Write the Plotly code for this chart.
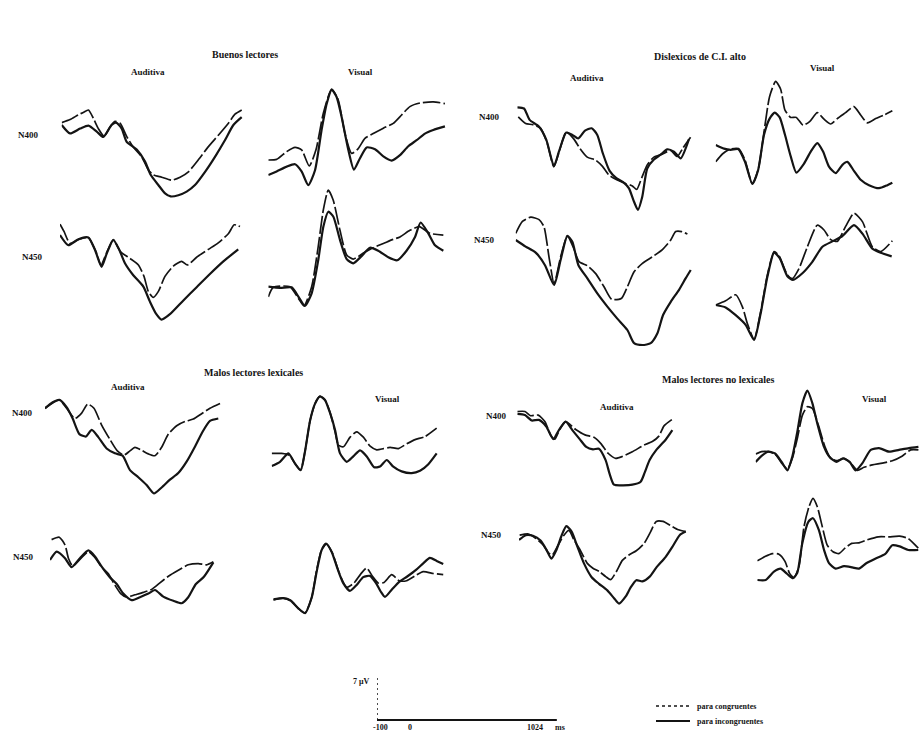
import plotly.graph_objects as go

W, H = 919, 734
MS_PER_PX = 6.25   # horizontal scale of every panel
PX_PER_UV = 6.0    # vertical scale of every panel (7 uV bar = 42 px)

# ---------------- data (time in ms, amplitude in uV) ----------------
# Buenos lectores
bl_aud_n400_inc_t = [-100, -48, 15, 67, 119, 160, 212, 240, 275, 306, 369, 421, 456, 504, 546, 581, 629, 681, 733, 796, 858, 921, 973, 1025]
bl_aud_n400_inc_v = [0, -1.4, -0.6, -0.1, -1.1, -2.0, 0, 0.4, -0.6, -2.8, -4.1, -6.1, -8.3, -10.0, -11.4, -11.9, -11.7, -11.1, -10.0, -7.8, -5.3, -2.5, 0, 1.3]
bl_aud_n400_con_t = [-100, -48, 4, 35, 67, 98, 129, 165, 202, 233, 265, 306, 348, 400, 442, 473, 525, 587, 640, 692, 754, 817, 879, 942, 983, 1025]
bl_aud_n400_con_v = [0.4, 0.9, 1.7, 2.1, 2.5, 1.1, -0.6, -1.9, -0.3, 0.6, 0.3, -1.9, -3.7, -5.3, -7.5, -8.3, -8.7, -9.2, -8.7, -7.8, -5.8, -3.6, -1.7, 0.3, 1.8, 2.5]

bl_vis_n400_inc_t = [-100, -48, 15, 67, 108, 150, 192, 233, 265, 296, 327, 358, 400, 435, 473, 515, 567, 619, 671, 723, 775, 827, 879, 931, 1004]
bl_vis_n400_inc_v = [0, 0.6, 1.4, 1.8, 0.6, -1.7, 0.8, 7.5, 11.9, 14.2, 13.0, 9.7, 4.2, 0.9, 2.8, 4.6, 4.3, 3.1, 2.4, 3.3, 4.8, 5.8, 6.9, 7.5, 8.1]
bl_vis_n400_con_t = [-100, -48, 15, 67, 108, 156, 198, 244, 296, 337, 379, 421, 462, 504, 556, 619, 681, 733, 785, 848, 931, 1004]
bl_vis_n400_con_v = [2.5, 2.6, 3.9, 4.6, 4.2, 1.5, 4.2, 10.3, 14.3, 12.5, 6.9, 3.6, 4.4, 6.1, 6.9, 7.8, 8.6, 10.0, 11.4, 12.0, 12.2, 11.9]

bl_aud_n450_inc_t = [-100, -48, 15, 77, 119, 160, 192, 233, 271, 306, 358, 421, 462, 500, 535, 587, 671, 754, 837, 921, 1014]
bl_aud_n450_inc_v = [0, -1.7, -0.7, -0.4, -2.5, -5.3, -3.1, -0.8, -2.5, -4.7, -6.7, -8.6, -11.1, -13.1, -14.1, -13.2, -10.9, -8.7, -6.5, -4.4, -2.4]
bl_aud_n450_con_t = [-100, -75, -38, 21, 77, 125, 156, 192, 233, 279, 337, 390, 425, 452, 483, 515, 556, 608, 660, 696, 754, 827, 889, 952, 989, 1025]
bl_aud_n450_con_v = [1.8, 0.6, -1.4, -0.7, -0.4, -2.8, -5.0, -2.9, -0.8, -2.8, -3.9, -5.0, -6.9, -9.4, -10.4, -9.4, -6.9, -5.2, -4.4, -5.0, -3.7, -2.4, -1.3, 0.2, 1.7, 1.4]

bl_vis_n450_inc_t = [-100, -27, 46, 87, 129, 171, 212, 244, 275, 306, 348, 390, 431, 483, 535, 587, 650, 706, 764, 817, 852, 900, 942, 994]
bl_vis_n450_inc_v = [0, -0.2, -0.1, -1.6, -3.2, -1.1, 4.4, 10.0, 12.5, 11.7, 7.8, 4.6, 3.9, 5.1, 6.5, 6.0, 4.9, 4.4, 6.0, 8.3, 10.7, 8.9, 6.9, 6.0]
bl_vis_n450_con_t = [-100, -69, 35, 87, 123, 171, 212, 244, 275, 306, 348, 390, 431, 494, 556, 619, 671, 723, 785, 844, 910, 994]
bl_vis_n450_con_v = [-1.7, -0.1, 0, -1.9, -3.2, 0, 6.7, 12.8, 16.1, 14.4, 9.4, 5.3, 4.6, 5.6, 6.5, 7.2, 7.8, 8.3, 9.4, 10.0, 8.9, 8.6]

# Dislexicos de C.I. alto
dx_aud_n400_inc_t = [-100, -58, -23, 35, 81, 129, 160, 206, 244, 281, 323, 365, 400, 435, 477, 519, 567, 598, 629, 654, 681, 712, 754, 796, 837, 879, 921, 973]
dx_aud_n400_inc_v = [0, -0.2, -2.1, -3.2, -5.4, -9.8, -7.4, -4.2, -4.6, -5.2, -3.9, -3.5, -4.6, -7.7, -10.6, -11.8, -12.6, -13.5, -15.7, -17.1, -14.9, -10.2, -8.7, -7.9, -7.0, -7.4, -8.5, -5.3]
dx_aud_n400_con_t = [-94, -48, -2, 46, 87, 129, 165, 206, 254, 290, 337, 390, 431, 473, 525, 577, 619, 646, 677, 712, 754, 806, 858, 900, 935, 983]
dx_aud_n400_con_v = [-1.6, -2.7, -2.9, -3.5, -6.0, -9.9, -7.1, -4.1, -5.3, -6.8, -8.3, -8.8, -9.8, -11.3, -12.1, -12.7, -13.1, -13.7, -11.8, -9.6, -8.3, -7.8, -7.2, -8.2, -6.8, -5.0]

dx_vis_n400_inc_t = [-100, -48, -6, 42, 83, 129, 165, 202, 237, 269, 300, 333, 369, 404, 452, 494, 535, 571, 608, 650, 692, 723, 764, 806, 858, 921, 973, 1004]
dx_vis_n400_inc_v = [0, -0.6, -0.8, -0.7, -2.8, -6.5, -4.2, 1.7, 4.4, 5.4, 4.6, 1.7, -1.9, -4.6, -3.1, -1.1, 0.3, -1.1, -3.6, -4.7, -3.3, -2.8, -4.3, -5.8, -6.7, -7.2, -6.7, -6.3]
dx_vis_n400_con_t = [-100, -58, -13, 42, 83, 129, 167, 202, 237, 275, 306, 333, 369, 404, 446, 487, 535, 577, 619, 660, 712, 764, 806, 848, 900, 952, 1004]
dx_vis_n400_con_v = [-2.8, -1.5, -0.7, -0.6, -2.5, -6.5, -3.9, 2.2, 8.1, 10.6, 9.3, 5.8, 4.6, 4.6, 3.3, 3.9, 5.4, 4.3, 3.5, 4.4, 5.4, 6.4, 5.0, 3.7, 4.4, 5.0, 5.7]

dx_aud_n450_inc_t = [-100, -38, 25, 83, 140, 181, 223, 254, 292, 348, 410, 473, 535, 598, 640, 692, 744, 785, 821, 869, 921, 962, 994]
dx_aud_n450_inc_v = [0, -1.1, -2.1, -4.2, -7.5, -3.3, 0.7, -0.3, -4.2, -6.4, -8.9, -11.1, -13.1, -15.0, -17.2, -17.5, -17.2, -15.6, -12.5, -10.3, -8.3, -6.4, -5.0]
dx_aud_n450_con_t = [-100, -58, -6, 46, 77, 108, 140, 181, 223, 258, 296, 348, 400, 452, 500, 562, 598, 640, 692, 754, 817, 869, 900, 937, 973]
dx_aud_n450_con_v = [1.1, 3.1, 3.8, 3.4, 2.2, -2.8, -7.3, -2.8, 0.7, -1.1, -3.6, -4.3, -5.6, -7.8, -9.9, -9.7, -7.8, -5.3, -3.9, -2.8, -1.6, 0, 1.4, 1.4, 1.0]

dx_vis_n450_inc_t = [-100, -38, 25, 87, 140, 181, 223, 265, 300, 348, 383, 442, 504, 567, 629, 692, 764, 817, 879, 931, 1000]
dx_vis_n450_inc_v = [0, -0.4, -1.7, -3.3, -5.8, -1.4, 4.7, 8.7, 7.8, 4.8, 4.2, 5.3, 7.2, 9.7, 10.6, 11.5, 13.3, 11.9, 9.4, 8.7, 8.1]
dx_vis_n450_con_t = [-100, -38, 25, 67, 98, 140, 181, 223, 265, 296, 348, 379, 421, 473, 535, 577, 619, 660, 712, 764, 817, 879, 931, 1004]
dx_vis_n450_con_v = [0, 0.7, 1.7, -0.3, -3.1, -5.7, -1.1, 5.0, 8.9, 8.2, 5.0, 4.4, 6.1, 9.7, 13.3, 12.5, 10.9, 10.6, 13.1, 15.3, 13.9, 9.7, 8.9, 10.7]

# Malos lectores lexicales
ml_aud_n400_inc_t = [-100, -52, -10, 35, 73, 115, 156, 192, 233, 285, 337, 385, 431, 483, 535, 581, 629, 681, 733, 785, 837, 885, 931, 983]
ml_aud_n400_inc_v = [0, 1.0, 1.4, 0.2, -1.7, -4.3, -4.7, -3.6, -4.8, -6.7, -7.5, -7.9, -10.3, -11.5, -12.8, -14.2, -13.2, -11.9, -10.8, -8.9, -6.4, -3.9, -2.1, -1.7]
ml_aud_n400_con_t = [-100, -10, 35, 87, 129, 167, 206, 254, 306, 352, 394, 431, 462, 498, 546, 587, 629, 671, 723, 775, 827, 879, 931, 994]
ml_aud_n400_con_v = [0, 1.4, 0, -1.7, -0.8, 0.7, 0, -2.8, -5.2, -7.1, -7.8, -7.1, -6.5, -6.9, -7.6, -7.9, -6.5, -4.3, -2.9, -2.2, -1.8, -0.9, 0, 0.8]

ml_vis_n400_inc_t = [-100, -48, 4, 46, 81, 108, 140, 171, 202, 233, 265, 296, 327, 369, 410, 452, 494, 540, 577, 619, 660, 712, 775, 827, 879, 931]
ml_vis_n400_inc_v = [0, 0.7, 2.1, 0.4, -0.7, 2.4, 7.6, 10.4, 11.6, 11.0, 8.8, 6.0, 2.1, 0.7, 1.6, 2.6, 1.6, -0.2, -0.1, 1.0, -0.1, -0.9, -1.2, -0.8, 0.3, 2.1]
ml_vis_n400_con_t = [-100, -38, 10, 46, 81, 108, 140, 171, 202, 233, 265, 296, 317, 348, 390, 431, 473, 515, 556, 598, 640, 692, 744, 796, 858, 931]
ml_vis_n400_con_v = [2.1, 2.1, 1.8, 0.4, -0.7, 2.4, 7.6, 10.4, 11.6, 11.0, 8.9, 5.7, 3.5, 3.2, 4.8, 5.7, 4.8, 3.3, 2.7, 2.9, 3.1, 2.9, 3.7, 4.4, 4.9, 6.3]

ml_aud_n450_inc_t = [-100, -58, -6, 35, 87, 140, 181, 223, 275, 317, 358, 410, 462, 515, 556, 608, 671, 723, 764, 812, 862, 921]
ml_aud_n450_inc_v = [0, 1.4, 0.3, -1.2, 0.3, 1.6, 0.6, -1.1, -2.9, -4.0, -5.6, -6.7, -6.2, -5.6, -5.0, -6.1, -6.8, -7.2, -6.2, -4.0, -2.8, -0.4]
ml_aud_n450_con_t = [-90, -42, -6, 15, 42, 87, 140, 181, 223, 265, 306, 342, 379, 431, 483, 535, 583, 640, 702, 764, 827, 879, 921]
ml_aud_n450_con_v = [3.4, 3.8, 2.5, 0.3, -1.0, 0.1, 1.4, 0.4, -1.2, -2.3, -4.2, -5.6, -6.2, -5.8, -5.4, -4.9, -3.9, -2.7, -1.7, -0.8, -0.6, -0.8, -0.3]

ml_vis_n450_inc_t = [-100, -38, 8, 56, 98, 140, 171, 202, 229, 265, 300, 337, 379, 421, 462, 504, 542, 571, 598, 640, 687, 737, 792, 837, 879, 921, 962]
ml_vis_n450_inc_v = [0, 0.2, -0.2, -1.5, -2.3, 0.3, 4.6, 8.2, 9.3, 7.9, 5.2, 2.7, 1.4, 2.4, 3.7, 3.9, 2.7, 1.3, 0.4, 1.6, 2.9, 3.8, 4.9, 6.0, 6.9, 6.4, 5.9]
ml_vis_n450_con_t = [-100, -38, 8, 56, 98, 140, 171, 202, 233, 271, 312, 358, 404, 446, 483, 521, 556, 592, 640, 687, 733, 785, 837, 900, 962]
ml_vis_n450_con_v = [-0.1, 0.2, -0.2, -1.5, -2.3, 0.3, 4.9, 8.3, 9.2, 7.6, 4.4, 2.0, 2.7, 4.2, 5.2, 3.8, 2.7, 2.8, 4.1, 3.1, 3.1, 3.9, 4.6, 4.3, 4.1]

# Malos lectores no lexicales
mn_aud_n400_inc_t = [-100, -52, -10, 35, 81, 125, 160, 202, 244, 290, 331, 373, 410, 452, 477, 504, 556, 619, 671, 696, 727, 769, 827, 869]
mn_aud_n400_inc_v = [-0.1, -0.3, -1.2, -1.1, -2.2, -4.3, -2.8, -1.4, -2.8, -4.3, -5.6, -6.0, -5.9, -7.8, -10.1, -11.9, -12.0, -11.9, -11.4, -9.9, -7.8, -6.1, -4.4, -2.8]
mn_aud_n400_con_t = [-100, -52, -17, 31, 73, 108, 135, 165, 202, 265, 323, 379, 421, 469, 515, 556, 619, 692, 744, 785, 817, 869]
mn_aud_n400_con_v = [0.3, 0.3, -0.4, -0.3, -1.4, -3.6, -4.3, -2.7, -1.4, -2.7, -3.6, -4.0, -5.0, -6.7, -7.5, -7.2, -6.4, -5.3, -4.7, -3.8, -2.1, -1.0]

mn_vis_n400_inc_t = [-100, -63, -21, 21, 62, 98, 129, 160, 192, 223, 254, 285, 327, 362, 404, 446, 487, 525, 567, 619, 671, 733, 796, 858, 917]
mn_vis_n400_inc_v = [-0.2, 0.8, 1.5, 1.2, -0.2, -1.6, 0.7, 4.8, 9.6, 11.7, 9.6, 6.2, 2.3, 0.6, -0.2, 0.4, -0.2, -1.6, -0.4, 1.8, 2.1, 1.5, 1.8, 2.1, 2.3]
mn_vis_n400_con_t = [-100, -63, -21, 21, 62, 98, 129, 160, 192, 223, 254, 292, 333, 369, 410, 452, 494, 535, 577, 629, 692, 754, 817, 869, 917]
mn_vis_n400_con_v = [1.1, 1.5, 1.5, 1.1, -0.4, -1.4, 0.4, 3.7, 7.6, 9.0, 8.7, 5.9, 2.3, 0.4, 0, 0.4, -0.4, -1.6, -1.1, -0.7, -0.4, 0, 0.8, 1.8, 1.8]

mn_aud_n450_inc_t = [-100, -58, -13, 35, 71, 102, 133, 167, 196, 229, 265, 306, 354, 400, 452, 494, 525, 567, 598, 633, 671, 717, 758, 817, 862, 904, 942]
mn_aud_n450_inc_v = [0, 0.8, 0.7, -0.1, -1.6, -3.1, -1.7, 0.8, 2.3, 1.4, -1.1, -3.9, -6.2, -7.3, -8.4, -9.7, -10.6, -9.4, -7.9, -6.7, -6.9, -6.1, -4.6, -2.8, -1.0, 0.8, 1.4]
mn_aud_n450_con_t = [-96, -42, 4, 50, 83, 108, 146, 181, 212, 244, 285, 327, 362, 404, 442, 473, 508, 546, 587, 633, 681, 723, 758, 800, 848, 896, 942]
mn_aud_n450_con_v = [0.8, 1.0, 0.3, -0.8, -2.1, -2.5, -0.8, 0.8, 1.6, 0, -1.8, -3.9, -4.7, -5.3, -6.1, -6.6, -5.3, -3.4, -2.5, -1.8, -0.6, 1.4, 3.1, 3.1, 2.4, 1.7, 1.4]

mn_vis_n450_inc_t = [-100, -48, 4, 46, 87, 123, 150, 181, 219, 248, 285, 317, 348, 390, 442, 494, 535, 581, 640, 698, 744, 790, 844, 906]
mn_vis_n450_inc_v = [0, 0, 1.4, 1.9, 1.0, 0.3, 1.2, 6.1, 9.7, 10.3, 8.3, 5.0, 2.8, 1.9, 2.3, 2.1, 1.9, 2.8, 3.6, 4.3, 5.8, 5.6, 5.0, 5.0]
mn_vis_n450_con_t = [-100, -52, -6, 35, 73, 102, 129, 160, 192, 223, 248, 275, 306, 337, 373, 410, 448, 490, 535, 587, 656, 723, 790, 844, 906]
mn_vis_n450_con_v = [3.2, 3.9, 4.4, 4.3, 3.1, 1.1, 0.4, 2.2, 8.9, 12.2, 13.6, 12.2, 8.9, 5.8, 4.7, 4.4, 5.3, 6.1, 6.2, 6.7, 7.2, 7.2, 7.3, 6.9, 5.3]

# calibration bar
scale_t = [-100, 1024]
scale_uv = 7

group_titles = ["Buenos lectores", "Dislexicos de C.I. alto", "Malos lectores lexicales", "Malos lectores no lexicales"]
modality_labels = ["Auditiva", "Visual"]
component_labels = ["N400", "N450"]
legend_labels = ["para congruentes", "para incongruentes"]

# ---------------- layout of panels (origin px: t=-100, v=0) ----------------
panels = [
    (bl_aud_n400_inc_t, bl_aud_n400_inc_v, bl_aud_n400_con_t, bl_aud_n400_con_v, 61.7, 125.0),
    (bl_vis_n400_inc_t, bl_vis_n400_inc_v, bl_vis_n400_con_t, bl_vis_n400_con_v, 268.3, 175.0),
    (bl_aud_n450_inc_t, bl_aud_n450_inc_v, bl_aud_n450_con_t, bl_aud_n450_con_v, 60.0, 235.0),
    (bl_vis_n450_inc_t, bl_vis_n450_inc_v, bl_vis_n450_con_t, bl_vis_n450_con_v, 268.3, 286.7),
    (dx_aud_n400_inc_t, dx_aud_n400_inc_v, dx_aud_n400_con_t, dx_aud_n400_con_v, 517.3, 107.3),
    (dx_vis_n400_inc_t, dx_vis_n400_inc_v, dx_vis_n400_con_t, dx_vis_n400_con_v, 715.7, 145.0),
    (dx_aud_n450_inc_t, dx_aud_n450_inc_v, dx_aud_n450_con_t, dx_aud_n450_con_v, 515.7, 240.0),
    (dx_vis_n450_inc_t, dx_vis_n450_inc_v, dx_vis_n450_con_t, dx_vis_n450_con_v, 715.7, 305.0),
    (ml_aud_n400_inc_t, ml_aud_n400_inc_v, ml_aud_n400_con_t, ml_aud_n400_con_v, 45.0, 408.3),
    (ml_vis_n400_inc_t, ml_vis_n400_inc_v, ml_vis_n400_con_t, ml_vis_n400_con_v, 271.7, 466.0),
    (ml_aud_n450_inc_t, ml_aud_n450_inc_v, ml_aud_n450_con_t, ml_aud_n450_con_v, 50.0, 560.0),
    (ml_vis_n450_inc_t, ml_vis_n450_inc_v, ml_vis_n450_con_t, ml_vis_n450_con_v, 273.3, 599.3),
    (mn_aud_n400_inc_t, mn_aud_n400_inc_v, mn_aud_n400_con_t, mn_aud_n400_con_v, 517.3, 413.3),
    (mn_vis_n400_inc_t, mn_vis_n400_inc_v, mn_vis_n400_con_t, mn_vis_n400_con_v, 755.7, 460.7),
    (mn_aud_n450_inc_t, mn_aud_n450_inc_v, mn_aud_n450_con_t, mn_aud_n450_con_v, 519.0, 540.0),
    (mn_vis_n450_inc_t, mn_vis_n450_inc_v, mn_vis_n450_con_t, mn_vis_n450_con_v, 757.3, 580.0),
]

INK = "#141414"
fig = go.Figure()
axes = {}


def add_axes(k, x0, y0, wpx, up, down):
    xr = min(x0 + wpx, W)
    top = max(y0 - up, 0)
    bot = min(y0 + down, H)
    xn = "xaxis" if k == 1 else f"xaxis{k}"
    yn = "yaxis" if k == 1 else f"yaxis{k}"
    axes[xn] = dict(domain=[x0 / W, xr / W], range=[-100, -100 + (xr - x0) * MS_PER_PX],
                    visible=False, anchor="y" if k == 1 else f"y{k}", fixedrange=True)
    axes[yn] = dict(domain=[1 - bot / H, 1 - top / H],
                    range=[-(bot - y0) / PX_PER_UV, (y0 - top) / PX_PER_UV],
                    visible=False, anchor="x" if k == 1 else f"x{k}", fixedrange=True)
    return ("x" if k == 1 else f"x{k}"), ("y" if k == 1 else f"y{k}")


for k, (ti, vi, tc, vc, x0, y0) in enumerate(panels, start=1):
    xa, ya = add_axes(k, x0, y0, 190, 115, 115)
    fig.add_trace(go.Scatter(x=tc, y=vc, xaxis=xa, yaxis=ya, mode="lines",
                             line=dict(color=INK, width=1.7, dash="18px,3px", shape="spline", smoothing=0.6),
                             showlegend=False, hoverinfo="skip", cliponaxis=False))
    fig.add_trace(go.Scatter(x=ti, y=vi, xaxis=xa, yaxis=ya, mode="lines",
                             line=dict(color=INK, width=2.2, shape="spline", smoothing=0.6),
                             showlegend=False, hoverinfo="skip", cliponaxis=False))

# calibration bar
k = len(panels) + 1
xa, ya = add_axes(k, 377, 720, 180, 50, 6)
fig.add_trace(go.Scatter(x=[scale_t[0], scale_t[0]], y=[0, scale_uv], xaxis=xa, yaxis=ya, mode="lines",
                         line=dict(color=INK, width=1.5, dash="2px,3px"), showlegend=False, hoverinfo="skip"))
fig.add_trace(go.Scatter(x=scale_t, y=[0, 0], xaxis=xa, yaxis=ya, mode="lines",
                         line=dict(color=INK, width=1.8), showlegend=False, hoverinfo="skip"))

FONT = "Liberation Serif"
ann = []


def text(s, px, py, size=10, anchor="center"):
    ann.append(dict(text=f"<b>{s}</b>", x=px / W, y=1 - py / H, xref="paper", yref="paper",
                    showarrow=False, xanchor=anchor, yanchor="middle",
                    font=dict(family=FONT, size=size, color=INK)))


# group titles
for s, (px, py) in zip(group_titles, [(245, 55), (700, 57), (253, 372), (718, 379)]):
    text(s, px, py, 10)
# modality labels
for i, (px, py) in enumerate([(148, 72), (360, 72), (587, 78), (822, 68),
                              (128, 387), (387, 399), (617, 407), (874, 399)]):
    text(modality_labels[i % 2], px, py, 9)
# component labels
for i, (px, py) in enumerate([(28, 135), (32, 257), (489, 117), (484, 240),
                              (22, 413), (23, 557), (497, 416), (492, 535)]):
    text(component_labels[i % 2], px, py, 9)

# calibration labels
text("7 μV", 361, 681, 8)
text("-100", 380, 727, 8)
text("0", 410, 727, 8)
text("1024", 535, 727, 8)
text("ms", 560, 727, 8)

# legend
shapes = [
    dict(type="line", xref="paper", yref="paper", x0=656 / W, x1=690 / W, y0=1 - 706 / H, y1=1 - 706 / H,
         line=dict(color=INK, width=1.4, dash="dot")),
    dict(type="line", xref="paper", yref="paper", x0=656 / W, x1=690 / W, y0=1 - 721 / H, y1=1 - 721 / H,
         line=dict(color=INK, width=1.8)),
]
text(legend_labels[0], 695, 706, 8, anchor="left")
text(legend_labels[1], 695, 721, 8, anchor="left")

fig.update_layout(width=W, height=H, margin=dict(l=0, r=0, t=0, b=0),
                  paper_bgcolor="white", plot_bgcolor="rgba(0,0,0,0)",
                  annotations=ann, shapes=shapes, showlegend=False, **axes)

fig.write_html("out.html", config={"displayModeBar": False, "staticPlot": True},
               post_script="document.body.style.margin='0';document.body.style.padding='0';"
                           "document.documentElement.style.overflow='hidden';")
